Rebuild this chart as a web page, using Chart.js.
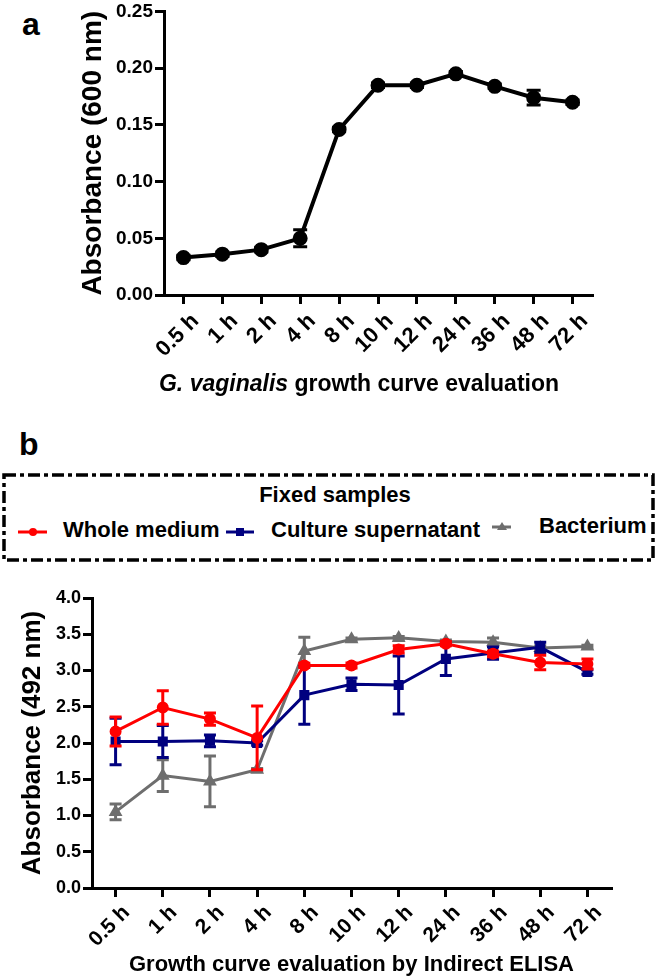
<!DOCTYPE html>
<html>
<head>
<meta charset="utf-8">
<script src="https://cdn.jsdelivr.net/npm/chart.js@4.4.1/dist/chart.umd.min.js"></script>
<style>
  body { margin: 0; background: #fff; width: 657px; height: 978px; position: relative; overflow: hidden;
         font-family: 'Liberation Sans', Arial, sans-serif; color: #000; }
  .abs { position: absolute; white-space: nowrap; }
  .panel { font-weight: bold; font-size: 32px; line-height: 32px; }
  #titleA { left: 0; width: 718px; top: 372px; text-align: center; font-weight: bold; font-size: 23px; line-height: 23px; }
  .leg { font-weight: bold; font-size: 22px; line-height: 22px; }
  canvas { position: absolute; left: 0; }
</style>
</head>
<body>
<div class="abs panel" style="left:22px;top:8px">a</div>
<canvas id="chartA" width="657" height="400" style="top:0"></canvas>
<div class="abs" id="titleA"><i>G. vaginalis</i> growth curve evaluation</div>

<div class="abs panel" style="left:19px;top:428px">b</div>
<svg class="abs" style="left:0;top:470px" width="657" height="95">
  <rect x="4" y="5" width="649" height="85" fill="none" stroke="#000" stroke-width="3.5" stroke-dasharray="12 4 4 4"/>
  <line x1="18" y1="62" x2="47" y2="62" stroke="#ff0000" stroke-width="3"/>
  <circle cx="33" cy="62" r="4" fill="#ff0000"/>
  <line x1="226" y1="62" x2="254" y2="62" stroke="#00007f" stroke-width="3"/>
  <rect x="236" y="58" width="8" height="8" fill="#00007f"/>
  <line x1="492" y1="57" x2="511" y2="57" stroke="#6e6e6e" stroke-width="3"/>
  <polygon points="502,52 507,60 497,60" fill="#6e6e6e"/>
</svg>
<div class="abs leg" style="left:0;width:670px;top:484px;text-align:center">Fixed samples</div>
<div class="abs leg" style="left:63px;top:519px">Whole medium</div>
<div class="abs leg" style="left:271px;top:519px">Culture supernatant</div>
<div class="abs leg" style="left:539px;top:515px">Bacterium</div>

<canvas id="chartB" width="657" height="418" style="top:560px"></canvas>

<script>
// time points (shared by both panels)
const categories = ["0.5 h", "1 h", "2 h", "4 h", "8 h", "10 h", "12 h", "24 h", "36 h", "48 h", "72 h"];

// panel a: OD600 growth curve
const growthOD = [0.033, 0.036, 0.040, 0.050, 0.146, 0.185, 0.185, 0.195, 0.184, 0.174, 0.170];
const growthErr = [0.002, 0.002, 0.002, 0.0075, 0.002, 0.002, 0.002, 0.002, 0.002, 0.0065, 0.002];

// panel b: indirect ELISA, A492
const wholeMedium = [2.16, 2.49, 2.33, 2.07, 3.07, 3.07, 3.29, 3.37, 3.23, 3.11, 3.09];
const wholeErr = [0.20, 0.23, 0.085, 0.44, 0.03, 0.035, 0.05, 0.03, 0.04, 0.10, 0.07];
const supernatant = [2.02, 2.02, 2.03, 2.00, 2.66, 2.81, 2.80, 3.16, 3.24, 3.32, 2.98];
const supernatantErr = [0.32, 0.22, 0.08, 0.03, 0.40, 0.085, 0.40, 0.23, 0.085, 0.07, 0.03];
const bacterium = [1.05, 1.55, 1.47, 1.63, 3.27, 3.43, 3.45, 3.40, 3.39, 3.31, 3.33];
const bacteriumErr = [0.11, 0.22, 0.35, 0.02, 0.19, 0.02, 0.02, 0.02, 0.06, 0.03, 0.02];

const FONT = "'Liberation Sans', Arial, sans-serif";
Chart.defaults.font.family = FONT;
Chart.defaults.color = "#000";

// mean +/- error bars, drawn under each dataset's line and markers
const errorBars = {
  id: "errorBars",
  beforeDatasetDraw(chart, args, opts) {
    const ds = chart.data.datasets[args.index];
    if (!ds.errors) return;
    const y = chart.scales.y;
    const ctx = chart.ctx;
    ctx.save();
    ctx.strokeStyle = ds.borderColor;
    ctx.lineWidth = opts.width;
    args.meta.data.forEach((pt, i) => {
      const top = y.getPixelForValue(ds.data[i] + ds.errors[i]);
      const bot = y.getPixelForValue(ds.data[i] - ds.errors[i]);
      ctx.beginPath();
      ctx.moveTo(pt.x, top); ctx.lineTo(pt.x, bot);
      ctx.moveTo(pt.x - opts.cap, top); ctx.lineTo(pt.x + opts.cap, top);
      ctx.moveTo(pt.x - opts.cap, bot); ctx.lineTo(pt.x + opts.cap, bot);
      ctx.stroke();
    });
    ctx.restore();
  }
};

function axisGrid() {
  return { drawOnChartArea: false, drawTicks: true, tickLength: 9, color: "#000", lineWidth: 3, offset: false };
}

function makeScales(o) {
  return {
    x: {
      offset: true,
      grid: axisGrid(),
      border: { display: true, color: "#000", width: 3 },
      ticks: { autoSkip: false, maxRotation: 45, minRotation: 45, padding: o.xPad, labelOffset: o.xShift,
               font: { size: o.xTickSize, weight: "bold", lineHeight: 1 } },
      title: o.xTitle ? { display: true, text: o.xTitle, padding: 0,
                          font: { size: 22, weight: "bold" } } : { display: false },
      afterFit: s => { s.height = o.xHeight; }
    },
    y: {
      min: o.min, max: o.max,
      grid: axisGrid(),
      border: { display: true, color: "#000", width: 3 },
      ticks: { stepSize: o.step, padding: 2, font: { size: o.tickSize, weight: "bold", lineHeight: 1 },
               callback: v => v.toFixed(o.digits) },
      title: { display: true, text: o.yTitle, padding: 0, font: { size: o.yTitleSize, weight: "bold" } },
      afterFit: s => { s.width = o.yWidth; }
    }
  };
}

new Chart(document.getElementById("chartA"), {
  type: "line",
  data: {
    labels: categories,
    datasets: [{
      label: "OD600",
      data: growthOD,
      errors: growthErr,
      borderColor: "#000",
      backgroundColor: "#000",
      borderWidth: 4,
      pointRadius: 5.5,
      pointStyle: "circle",
      tension: 0
    }]
  },
  options: {
    responsive: false,
    animation: false,
    layout: { padding: { left: 76, top: 9, right: 65, bottom: 0 } },
    scales: makeScales({ min: 0, max: 0.25, step: 0.05, digits: 2, tickSize: 19,
                         xTickSize: 22, xPad: 6, xShift: 12,
                         yTitle: "Absorbance (600 nm)", yTitleSize: 28, yWidth: 88, xHeight: 105 }),
    plugins: { legend: { display: false }, tooltip: { enabled: false },
               errorBars: { width: 3, cap: 7 } }
  },
  plugins: [errorBars]
});

new Chart(document.getElementById("chartB"), {
  type: "line",
  data: {
    labels: categories,
    datasets: [
      { label: "Whole medium", data: wholeMedium, errors: wholeErr,
        borderColor: "#ff0000", backgroundColor: "#ff0000", borderWidth: 3,
        pointStyle: "circle", pointRadius: 4.5, tension: 0 },
      { label: "Culture supernatant", data: supernatant, errors: supernatantErr,
        borderColor: "#00007f", backgroundColor: "#00007f", borderWidth: 3,
        pointStyle: "rect", pointRadius: 5, tension: 0 },
      { label: "Bacterium", data: bacterium, errors: bacteriumErr,
        borderColor: "#6e6e6e", backgroundColor: "#6e6e6e", borderWidth: 3,
        pointStyle: "triangle", pointRadius: 5, tension: 0 }
    ]
  },
  options: {
    responsive: false,
    animation: false,
    layout: { padding: { left: 17, top: 38, right: 46, bottom: 0 } },
    scales: makeScales({ min: 0, max: 4, step: 0.5, digits: 1, tickSize: 18,
                         xTickSize: 21, xPad: 5, xShift: 11,
                         yTitle: "Absorbance (492 nm)", yTitleSize: 26, yWidth: 75, xHeight: 90,
                         xTitle: "Growth curve evaluation by Indirect ELISA" }),
    plugins: { legend: { display: false }, tooltip: { enabled: false },
               errorBars: { width: 3, cap: 6 } }
  },
  plugins: [errorBars]
});
</script>
</body>
</html>
